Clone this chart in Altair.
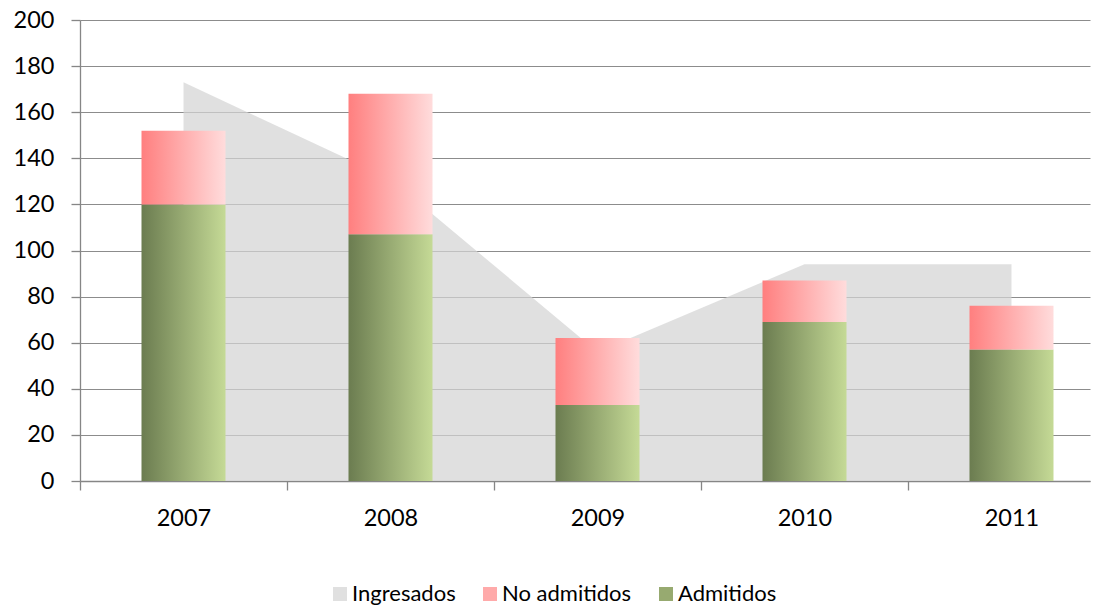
import altair as alt
import pandas as pd

anios = [2007, 2008, 2009, 2010, 2011]
ingresados = [173, 131, 56, 94, 94]
admitidos = [120, 107, 33, 69, 57]
no_admitidos = [32, 61, 29, 18, 19]
series = ["Ingresados", "No admitidos", "Admitidos"]
y_ticks = list(range(0, 201, 20))

area_df = pd.DataFrame({"anio": anios, "valor": ingresados, "serie": series[0]})
bar_df = pd.DataFrame({"anio": anios, "admitidos": admitidos, "no_admitidos": no_admitidos})

x_values = sorted(anios + [a - 0.5 for a in anios])

grad_red = alt.LinearGradient(
    gradient="linear", x1=0, y1=0, x2=1, y2=0,
    stops=[alt.GradientStop(color="#ff7f7f", offset=0), alt.GradientStop(color="#ffdcdc", offset=1)],
)
grad_green = alt.LinearGradient(
    gradient="linear", x1=0, y1=0, x2=1, y2=0,
    stops=[alt.GradientStop(color="#6b7c50", offset=0), alt.GradientStop(color="#c5da96", offset=1)],
)

color_scale = alt.Scale(domain=series, range=["rgba(212,212,212,0.72)", "#ffaaaa", "#97aa70"])
legend = alt.Legend(
    title=None, orient="none", legendX=249, legendY=563, direction="horizontal",
    symbolType="square", symbolSize=196, symbolStrokeWidth=0, symbolOpacity=1,
    labelFont="Lato", labelFontSize=22, labelColor="#000000",
    labelOffset=1, columnPadding=23, padding=0,
)

x_scale = alt.Scale(domain=[2006.5, 2006.5 + 1010 / 207], nice=False, zero=False, padding=0)
x_axis = alt.Axis(
    values=x_values,
    labelExpr="datum.value % 1 == 0 ? format(datum.value, 'd') : ''",
    tickOpacity={"condition": {"test": "datum.value % 1 == 0", "value": 0}, "value": 1},
    grid=False, title=None, labelOverlap=False, labelFlush=False,
    labelFont="Lato", labelFontSize=23.5, labelColor="#000000", labelPadding=16,
    tickSize=9, tickColor="#868686", tickWidth=1.3,
    domainColor="#868686", domainWidth=1.3,
)
y_scale = alt.Scale(domain=[0, 200], nice=False)
y_axis = alt.Axis(
    values=y_ticks, grid=True, gridColor="#8c8c8c", gridWidth=1.2, title=None,
    labelFont="Lato", labelFontSize=23.5, labelColor="#000000", labelPadding=17,
    tickSize=9, tickColor="#868686", tickWidth=1.3,
    domainColor="#868686", domainWidth=1.3,
)

area = alt.Chart(area_df).mark_area().encode(
    x=alt.X("anio:Q", scale=x_scale, axis=x_axis),
    y=alt.Y("valor:Q", scale=y_scale, axis=y_axis),
    color=alt.Color("serie:N", scale=color_scale, legend=legend),
)

base = alt.Chart(bar_df).transform_calculate(total="datum.admitidos + datum.no_admitidos")

bars_adm = base.mark_bar(size=84, color=grad_green).encode(
    x=alt.X("anio:Q", scale=x_scale, axis=x_axis),
    y=alt.Y("admitidos:Q", scale=y_scale, axis=y_axis),
)
bars_no = base.mark_bar(size=84, color=grad_red).encode(
    x=alt.X("anio:Q", scale=x_scale, axis=x_axis),
    y=alt.Y("total:Q", scale=y_scale, axis=y_axis),
    y2="admitidos:Q",
)

chart = alt.layer(area, bars_adm, bars_no).properties(
    width=1010, height=461,
    padding={"left": 72, "top": 12, "right": 1, "bottom": 128},
    autosize=alt.AutoSizeParams(type="none"),
).configure_view(stroke=None)

chart.save("out.html", embed_options={"renderer": "svg", "actions": False})
